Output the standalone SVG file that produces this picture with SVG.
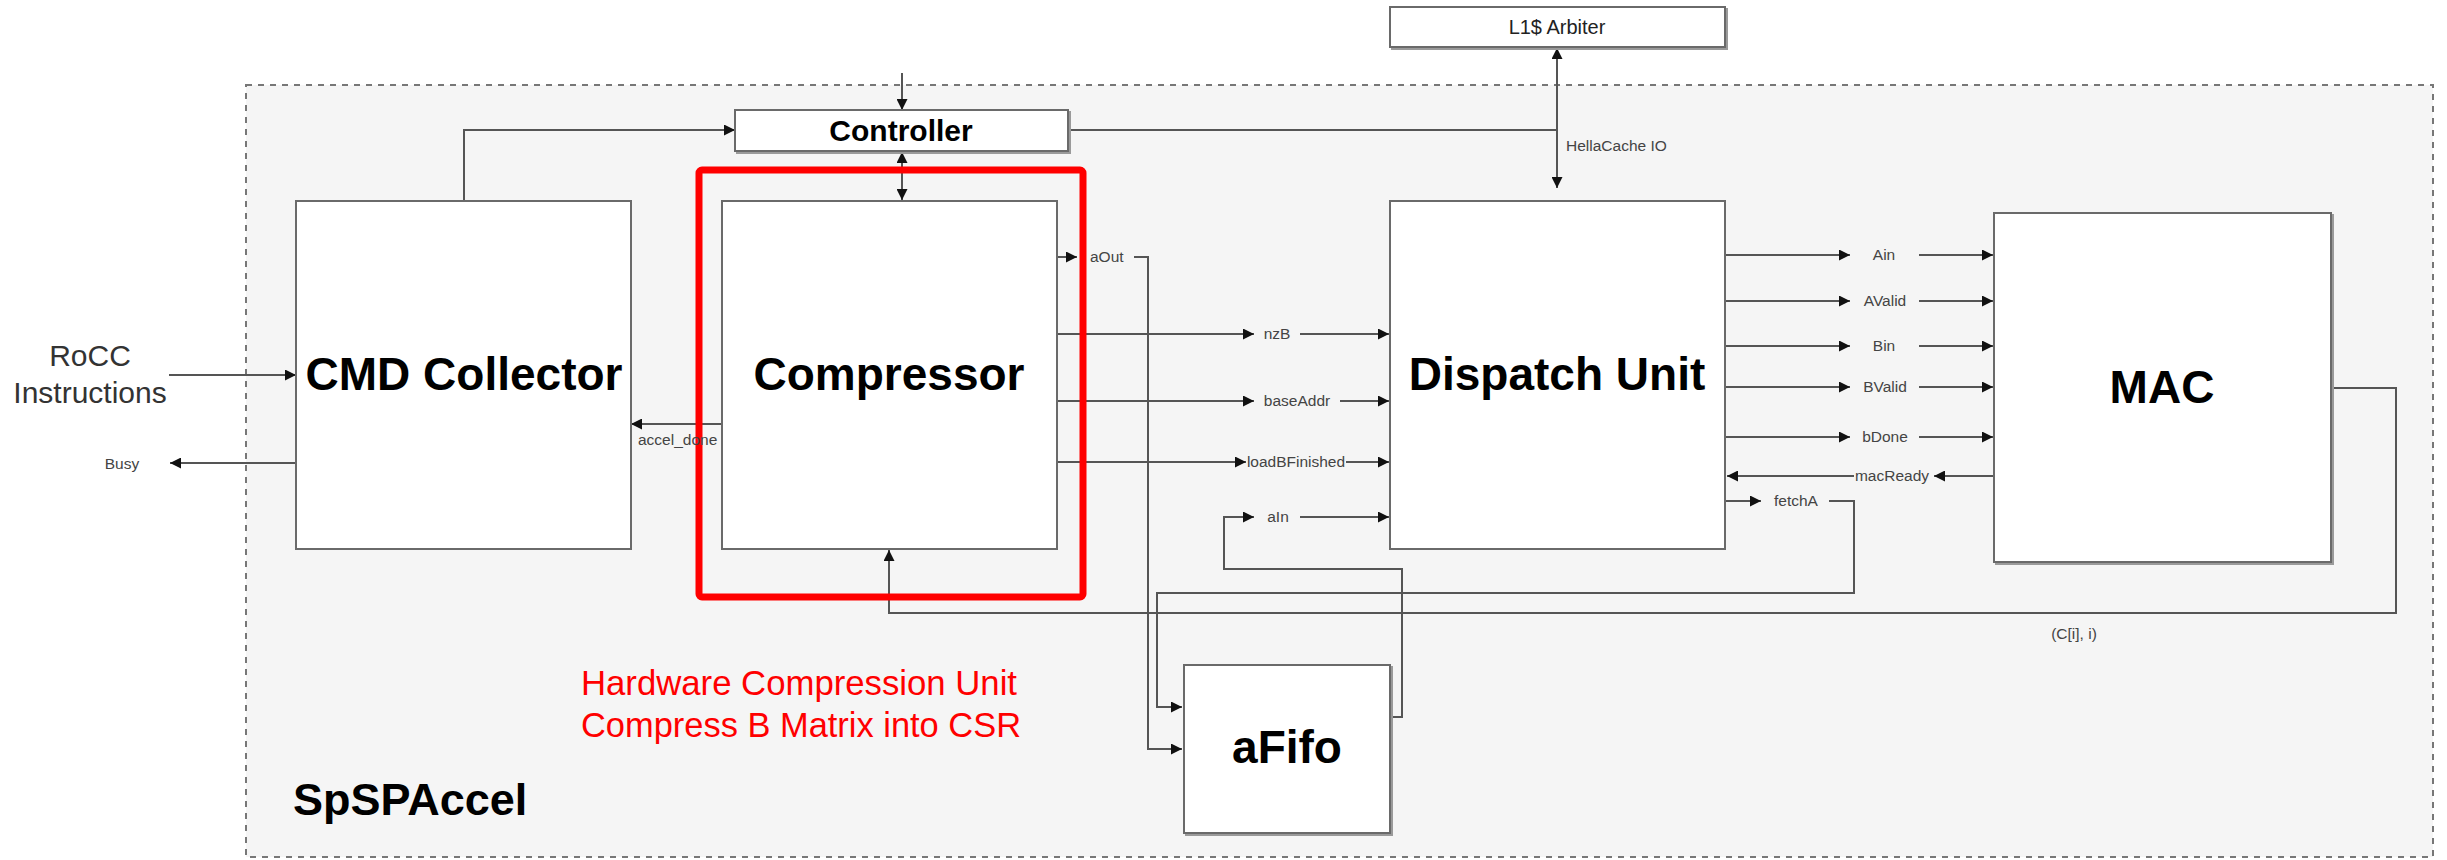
<svg xmlns="http://www.w3.org/2000/svg" width="2447" height="860" viewBox="0 0 2447 860">
<defs>
<marker id="arr" viewBox="0 0 10 10" refX="10" refY="5" markerWidth="11" markerHeight="11" markerUnits="userSpaceOnUse" orient="auto-start-reverse">
<path d="M0,0 L10,5 L0,10 z" fill="#111"/>
</marker>
<style>
.box{fill:#fff;stroke:#6a6a6a;stroke-width:2}
.shadow{fill:none;stroke:#9a9a9a;stroke-width:2}
.big{font-family:"Liberation Sans",Arial,sans-serif;font-weight:bold;font-size:46px;fill:#000;text-anchor:middle}
.lbl{font-family:"Liberation Sans",Arial,sans-serif;font-size:15.5px;fill:#444}
.ln{fill:none;stroke:#555;stroke-width:2}
.la{fill:none;stroke:#555;stroke-width:2;marker-end:url(#arr)}
.red{font-family:"Liberation Sans",Arial,sans-serif;font-size:35px;fill:#ff0000}
</style>
</defs>
<rect width="2447" height="860" fill="#ffffff"/>

<g id="SpSPAccel">
<rect x="246" y="85" width="2187" height="772" fill="#f5f5f5" stroke="#777" stroke-width="2" stroke-dasharray="6,6"/>
<text x="293" y="815" font-family="Liberation Sans, Arial, sans-serif" font-weight="bold" font-size="45" fill="#000">SpSPAccel</text>
</g>

<g id="connectors">
<line class="la" x1="902" y1="73" x2="902" y2="110"/>
<polyline class="la" points="464,201 464,130 735,130"/>
<line class="ln" x1="1068" y1="130" x2="1557" y2="130"/>
<line class="ln" x1="1557" y1="48" x2="1557" y2="188" marker-start="url(#arr)" marker-end="url(#arr)"/>
<line class="ln" x1="902" y1="152" x2="902" y2="200" marker-start="url(#arr)" marker-end="url(#arr)"/>
<line class="la" x1="169" y1="375" x2="296" y2="375"/>
<line class="la" x1="296" y1="463" x2="170" y2="463"/>
<line class="la" x1="722" y1="424" x2="631" y2="424"/>
<line class="la" x1="1057" y1="257" x2="1077" y2="257"/>
<polyline class="la" points="1134,257 1148,257 1148,749 1182,749"/>
<line class="la" x1="1057" y1="334" x2="1254" y2="334"/>
<line class="la" x1="1300" y1="334" x2="1389" y2="334"/>
<line class="la" x1="1057" y1="401" x2="1254" y2="401"/>
<line class="la" x1="1340" y1="401" x2="1389" y2="401"/>
<line class="la" x1="1057" y1="462" x2="1246" y2="462"/>
<line class="la" x1="1346" y1="462" x2="1389" y2="462"/>
<polyline class="la" points="1390,717 1402,717 1402,569 1224,569 1224,517 1254,517"/>
<line class="la" x1="1300" y1="517" x2="1389" y2="517"/>
<line class="la" x1="1725" y1="255" x2="1850" y2="255"/>
<line class="la" x1="1919" y1="255" x2="1993" y2="255"/>
<line class="la" x1="1725" y1="301" x2="1850" y2="301"/>
<line class="la" x1="1919" y1="301" x2="1993" y2="301"/>
<line class="la" x1="1725" y1="346" x2="1850" y2="346"/>
<line class="la" x1="1919" y1="346" x2="1993" y2="346"/>
<line class="la" x1="1725" y1="387" x2="1850" y2="387"/>
<line class="la" x1="1919" y1="387" x2="1993" y2="387"/>
<line class="la" x1="1725" y1="437" x2="1850" y2="437"/>
<line class="la" x1="1919" y1="437" x2="1993" y2="437"/>
<line class="la" x1="1994" y1="476" x2="1934" y2="476"/>
<line class="la" x1="1854" y1="476" x2="1727" y2="476"/>
<line class="la" x1="1725" y1="501" x2="1761" y2="501"/>
<polyline class="la" points="1829,501 1854,501 1854,593 1157,593 1157,707 1182,707"/>
<polyline class="la" points="2331,388 2396,388 2396,613 889,613 889,550"/>
</g>

<g id="L1Arbiter">
<rect x="1392" y="9" width="335" height="40" class="shadow"/>
<rect x="1390" y="7" width="335" height="40" class="box"/>
<text x="1557" y="34" font-family="Liberation Sans, Arial, sans-serif" font-size="20" fill="#222" text-anchor="middle">L1$ Arbiter</text>
</g>

<g id="Controller">
<rect x="737" y="112" width="333" height="41" class="shadow"/>
<rect x="735" y="110" width="333" height="41" class="box"/>
<text x="901" y="141" font-family="Liberation Sans, Arial, sans-serif" font-weight="bold" font-size="30" fill="#000" text-anchor="middle">Controller</text>
</g>

<g id="CMDCollector">
<rect x="296" y="201" width="335" height="348" class="box"/>
<text x="464" y="390" class="big">CMD Collector</text>
</g>

<g id="Compressor">
<rect x="722" y="201" width="335" height="348" class="box"/>
<text x="889" y="390" class="big">Compressor</text>
</g>

<g id="DispatchUnit">
<rect x="1390" y="201" width="335" height="348" class="box"/>
<text x="1557" y="390" class="big">Dispatch Unit</text>
</g>

<g id="MAC">
<rect x="1996" y="215" width="337" height="349" class="shadow"/>
<rect x="1994" y="213" width="337" height="349" class="box"/>
<text x="2162" y="403" class="big">MAC</text>
</g>

<g id="aFifo">
<rect x="1186" y="667" width="206" height="168" class="shadow"/>
<rect x="1184" y="665" width="206" height="168" class="box"/>
<text x="1287" y="763" class="big">aFifo</text>
</g>

<g id="highlight">
<rect x="699" y="170" width="384" height="427" rx="3" fill="none" stroke="#ff0000" stroke-width="7"/>
<text x="581" y="695" class="red" textLength="436" lengthAdjust="spacingAndGlyphs">Hardware Compression Unit</text>
<text x="581" y="737" class="red" textLength="440" lengthAdjust="spacingAndGlyphs">Compress B Matrix into CSR</text>
</g>

<g id="labels">
<text x="90" y="366" font-family="Liberation Sans, Arial, sans-serif" font-size="30" fill="#333" text-anchor="middle">RoCC</text>
<text x="90" y="403" font-family="Liberation Sans, Arial, sans-serif" font-size="30" fill="#333" text-anchor="middle">Instructions</text>
<text x="122" y="469" class="lbl" text-anchor="middle">Busy</text>
<text x="638" y="445" class="lbl">accel_done</text>
<text x="1566" y="151" class="lbl">HellaCache IO</text>
<text x="1090" y="262" class="lbl">aOut</text>
<text x="1277" y="339" class="lbl" text-anchor="middle">nzB</text>
<text x="1297" y="406" class="lbl" text-anchor="middle">baseAddr</text>
<text x="1296" y="467" class="lbl" text-anchor="middle">loadBFinished</text>
<text x="1278" y="522" class="lbl" text-anchor="middle">aIn</text>
<text x="1884" y="260" class="lbl" text-anchor="middle">Ain</text>
<text x="1885" y="306" class="lbl" text-anchor="middle">AValid</text>
<text x="1884" y="351" class="lbl" text-anchor="middle">Bin</text>
<text x="1885" y="392" class="lbl" text-anchor="middle">BValid</text>
<text x="1885" y="442" class="lbl" text-anchor="middle">bDone</text>
<text x="1892" y="481" class="lbl" text-anchor="middle">macReady</text>
<text x="1796" y="506" class="lbl" text-anchor="middle">fetchA</text>
<text x="2074" y="639" class="lbl" text-anchor="middle" font-size="17">(C[i], i)</text>
</g>
</svg>
